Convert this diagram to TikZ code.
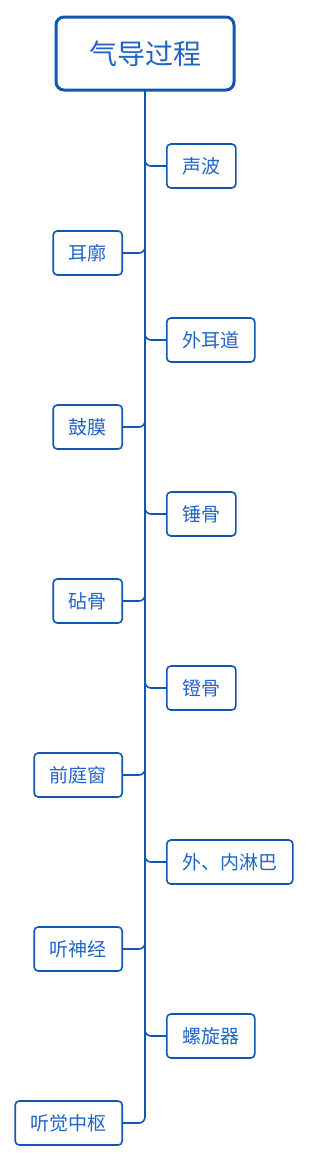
\documentclass[tikz,border=0pt]{standalone}
\usepackage{fontspec}
\newfontfamily\cjk{Noto Sans CJK SC}
\definecolor{bord}{RGB}{18,86,178}
\definecolor{txt}{RGB}{32,100,196}
\begin{document}
\begin{tikzpicture}[x=1pt,y=-1pt,
  box/.style={draw=bord, rounded corners=4pt, line width=1.6pt, minimum height=44pt,
    inner xsep=0pt, text=txt, font=\cjk\fontsize{19}{19}\selectfont},
  rootbox/.style={draw=bord, rounded corners=8pt, line width=3pt, minimum width=178pt,
    minimum height=73pt, text=txt, font=\cjk\fontsize{28}{28}\selectfont},
  link/.style={draw=bord, line width=1.6pt, rounded corners=6pt}]
\useasboundingbox (0,0) rectangle (309,1162);
\node[rootbox] (root) at (145,53.5) {气导过程};
\node[box, anchor=west, minimum width=69pt]  (n1)  at (166,166)  {声波};
\node[box, anchor=east, minimum width=69pt]  (n2)  at (123,253)  {耳廓};
\node[box, anchor=west, minimum width=88pt]  (n3)  at (166,340)  {外耳道};
\node[box, anchor=east, minimum width=69pt]  (n4)  at (123,427)  {鼓膜};
\node[box, anchor=west, minimum width=69pt]  (n5)  at (166,514)  {锤骨};
\node[box, anchor=east, minimum width=69pt]  (n6)  at (123,601)  {砧骨};
\node[box, anchor=west, minimum width=69pt]  (n7)  at (166,688)  {镫骨};
\node[box, anchor=east, minimum width=88pt]  (n8)  at (123,775)  {前庭窗};
\node[box, anchor=west, minimum width=126pt] (n9)  at (166,862)  {外、内淋巴};
\node[box, anchor=east, minimum width=88pt]  (n10) at (123,949)  {听神经};
\node[box, anchor=west, minimum width=88pt]  (n11) at (166,1036) {螺旋器};
\node[box, anchor=east, minimum width=107pt] (n12) at (123,1123) {听觉中枢};
\foreach \n in {n1,n3,n5,n7,n9,n11} \draw[link] (root.south) |- (\n.west);
\foreach \n in {n2,n4,n6,n8,n10,n12} \draw[link] (root.south) |- (\n.east);
\end{tikzpicture}
\end{document}
